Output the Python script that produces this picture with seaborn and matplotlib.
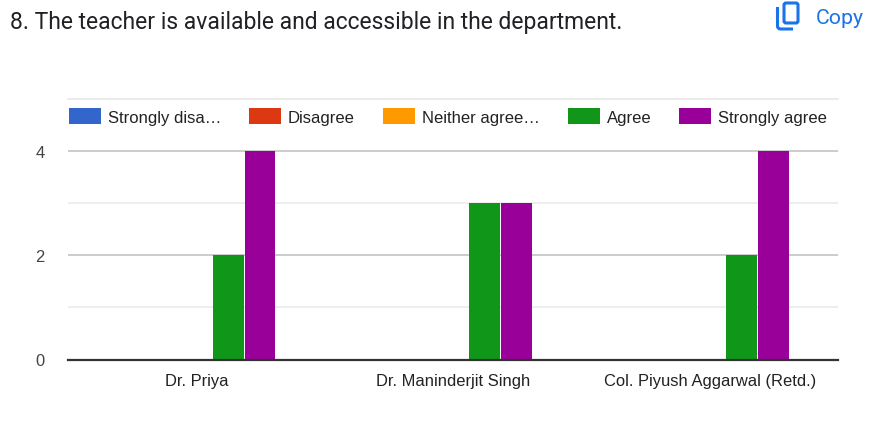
import matplotlib
matplotlib.use('Agg')
import matplotlib.pyplot as plt
from matplotlib.patches import FancyBboxPatch, PathPatch, Rectangle
from matplotlib.path import Path
from matplotlib.ticker import MultipleLocator
from matplotlib.transforms import IdentityTransform
import pandas as pd
import seaborn as sns

# data
teachers = ["Dr. Priya", "Dr. Maninderjit Singh", "Col. Piyush Aggarwal (Retd.)"]
responses = ["Strongly disagree", "Disagree", "Neither agree nor disagree", "Agree", "Strongly agree"]
legend_labels = ["Strongly disa…", "Disagree", "Neither agree…", "Agree", "Strongly agree"]
strongly_disagree = [0, 0, 0]
disagree = [0, 0, 0]
neither = [0, 0, 0]
agree = [2, 3, 2]
strongly_agree = [4, 3, 4]
colors = ["#3366CC", "#DC3912", "#FF9900", "#109618", "#990099"]

W, H = 884, 427

df = pd.DataFrame(
    {"teacher": teachers, responses[0]: strongly_disagree, responses[1]: disagree,
     responses[2]: neither, responses[3]: agree, responses[4]: strongly_agree}
).melt(id_vars="teacher", var_name="response", value_name="count")

sns.set_theme(style="white")
plt.rcParams['font.family'] = ['Liberation Sans', 'DejaVu Sans']

fig = plt.figure(figsize=(W / 100, H / 100), dpi=100)
ax = fig.add_axes([68 / W, 1 - 360.5 / H, 770 / W, 260.5 / H])

sns.barplot(data=df, x="teacher", y="count", hue="response", hue_order=responses,
            palette=colors, width=0.62, gap=0.03, saturation=1, linewidth=0,
            legend=False, ax=ax, zorder=3)

ax.set_xlim(-0.5, 2.5)
ax.set_ylim(0, 5)
ax.set_xlabel("")
ax.set_ylabel("")
ax.yaxis.set_major_locator(MultipleLocator(2))
ax.yaxis.set_minor_locator(MultipleLocator(1))
ax.grid(axis="y", which="major", color="#CCCCCC", linewidth=1.4, zorder=0)
ax.grid(axis="y", which="minor", color="#EBEBEB", linewidth=1.2, zorder=0)
ax.set_axisbelow(True)
ax.spines[["top", "right", "left"]].set_visible(False)
ax.spines["bottom"].set_color("#333333")
ax.spines["bottom"].set_linewidth(1.6)
ax.spines["bottom"].set_zorder(5)
ax.tick_params(axis="x", length=0, pad=10, labelsize=11.9, labelcolor="#222222")
ax.tick_params(axis="y", which="both", length=0, pad=17, labelsize=11.9, labelcolor="#444444")
# top line of the plot area is a light gridline
ax.axhline(5, color="#EBEBEB", linewidth=1.4, clip_on=False, zorder=0)


def px(x, y):
    return x / W, 1 - y / H


# legend is laid out by hand, pixel spots taken from the reference
swatch_x = [69, 249, 383, 568, 679]
for sx, label, c in zip(swatch_x, legend_labels, colors):
    fig.add_artist(Rectangle(px(sx, 125), 32 / W, 16 / H, transform=fig.transFigure,
                             facecolor=c, edgecolor="none"))
    fig.text(*px(sx + 39, 118), label, fontsize=11.95, color="#222222", va="center", ha="left")

# question title
fig.text(*px(10, 22), "8. The teacher is available and accessible in the department.",
         family=["Roboto", "DejaVu Sans"], fontsize=16.45, color="#202124", va="center", ha="left")

# copy button
blue = "#1A73E8"
fig.text(*px(816, 18), "Copy", family=["Roboto", "DejaVu Sans"], fontsize=15.3,
         color=blue, va="center", ha="left")
pixels = IdentityTransform()
# front sheet
fig.add_artist(FancyBboxPatch((784, H - 24), 14, 20, boxstyle="round,pad=0,rounding_size=2",
                              transform=pixels, facecolor="none", edgecolor=blue,
                              linewidth=2.2, mutation_scale=1))
# back sheet, only its left and bottom sides show
back = Path([(777.5, H - 8), (777.5, H - 27), (777.5, H - 30), (780.5, H - 30), (793, H - 30)],
            [Path.MOVETO, Path.LINETO, Path.CURVE3, Path.CURVE3, Path.LINETO])
fig.add_artist(PathPatch(back, transform=pixels, facecolor="none", edgecolor=blue,
                         linewidth=2.2, capstyle="butt"))

fig.savefig("out.png", dpi=100)
